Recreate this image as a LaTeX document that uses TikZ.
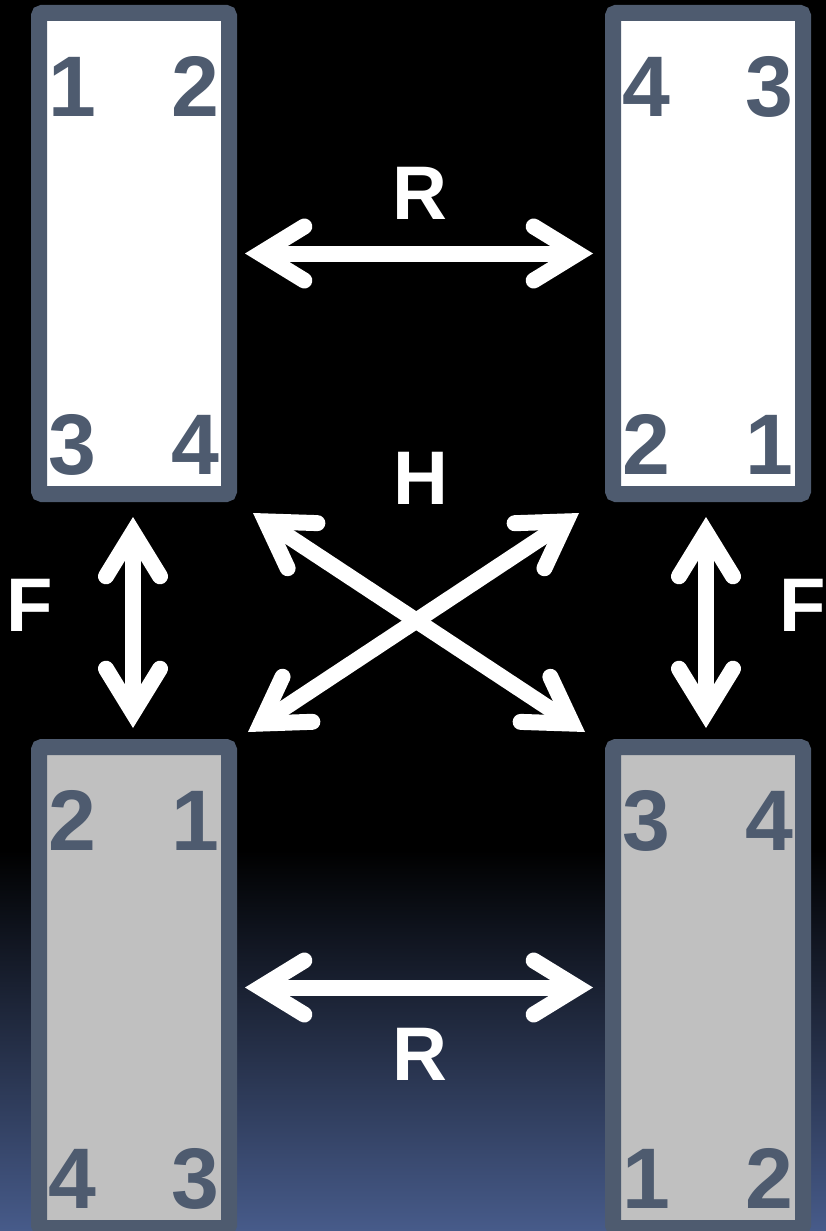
\documentclass[tikz,border=0pt]{standalone}
\usepackage{fontspec}
\setmainfont{Liberation Sans}
\usetikzlibrary{arrows.meta,positioning}
\definecolor{edge}{RGB}{78,91,111}
\definecolor{backgray}{RGB}{192,192,192}
\definecolor{deepblue}{RGB}{71,91,138}

\begin{document}
\begin{tikzpicture}[x=1pt, y=-1pt, node distance=237pt and 368pt,
  frame/.style={draw=edge, line width=16pt, rounded corners=3pt, minimum width=190pt, minimum height=481pt},
  front/.style={frame, fill=white}, back/.style={frame, fill=backgray},
  num/.style={text=edge, inner sep=0pt, font=\fontsize{86}{86}\selectfont\bfseries},
  lbl/.style={text=white, inner sep=0pt, anchor=base, font=\fontsize{76}{76}\selectfont\bfseries},
  twoway/.style={{Straight Barb[length=44pt, width=54pt, line cap=round, line join=miter]}-{Straight Barb[length=44pt, width=54pt, line cap=round, line join=miter]}, white, line width=16pt}]
\useasboundingbox (0,0) rectangle (826,1231);
\fill[black] (0,0) rectangle (826,1231);
\shade[top color=black, bottom color=deepblue] (0,850) rectangle (826,1231);
% the four rectangles
\node[front] (tl) at (134,253.5) {};
\node[front, right=of tl] (tr) {};
\node[back, below=of tl] (bl) {};
\node[back, below=of tr] (br) {};
% corner numbers
\foreach \r/\a/\b/\c/\d in {tl/1/2/3/4, tr/4/3/2/1, bl/2/1/4/3, br/3/4/1/2} {
  \node[num, anchor=base west] (\r-nw) at ([shift={(17,111)}]\r.north west) {\a};
  \node[num, anchor=base east] (\r-ne) at ([shift={(-17,111)}]\r.north east) {\b};
  \node[num, anchor=base west] (\r-sw) at ([shift={(17,-28)}]\r.south west) {\c};
  \node[num, anchor=base east] (\r-se) at ([shift={(-17,-28)}]\r.south east) {\d};
}
% labels
\node[lbl] (rtop) at (420,219) {R};
\node[lbl] (h) at (421,504) {H};
\node[lbl] (rbot) at (420,1080) {R};
\node[lbl] (fleft) at (30,631) {F};
\node[lbl] (fright) at (803,631) {F};
% arrows
\draw[twoway] ([shift={(8,0)}]tl.east) -- ([shift={(-12,0)}]tr.west);
\draw[twoway] ([shift={(8,0)}]bl.east) -- ([shift={(-12,0)}]br.west);
\draw[twoway] ([shift={(-1,15)}]tl.south) -- ([shift={(-1,-11)}]bl.north);
\draw[twoway] ([shift={(-2,15)}]tr.south) -- ([shift={(-2,-11)}]br.north);
\draw[twoway] ([shift={(16,11)}]tl.south east) -- ([shift={(-20,-7)}]br.north west);
\draw[twoway] ([shift={(-26,11)}]tr.south west) -- ([shift={(11,-7)}]bl.north east);
\end{tikzpicture}
\end{document}
